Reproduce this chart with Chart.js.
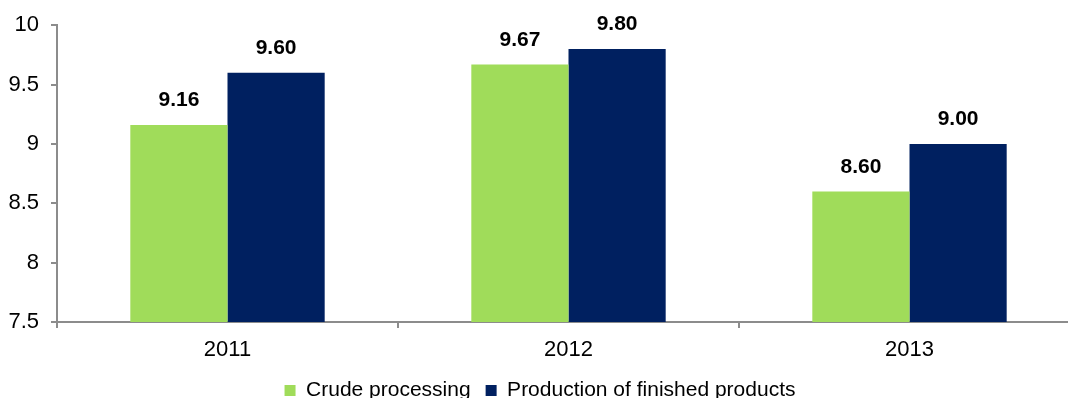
<!DOCTYPE html>
<html>
<head>
<meta charset="utf-8">
<script src="https://cdn.jsdelivr.net/npm/chart.js@4/dist/chart.umd.min.js"></script>
<style>
  html, body { margin: 0; padding: 0; background: #fff; overflow: hidden; }
  #wrap { width: 1080px; height: 411px; }
</style>
</head>
<body>
<div id="wrap"><canvas id="ctx-refining" width="1080" height="411"></canvas></div>
<script>
const years = ['2011', '2012', '2013'];
const crudeProcessing = [9.16, 9.67, 8.60];
const finishedProducts = [9.60, 9.80, 9.00];
const yTicks = [7.5, 8, 8.5, 9, 9.5, 10];

const FONT = "'Liberation Sans', Arial, sans-serif";
const axisGray = '#8c8c8c';

// value labels above each bar
const barLabels = {
    id: 'barLabels',
    afterDatasetsDraw(chart) {
        const c = chart.ctx;
        c.save();
        c.font = 'bold 21px ' + FONT;
        c.fillStyle = '#000';
        c.textAlign = 'center';
        c.textBaseline = 'bottom';
        chart.data.datasets.forEach((ds, i) => {
            chart.getDatasetMeta(i).data.forEach((bar, j) => {
                c.fillText(ds.data[j].toFixed(2), bar.x, bar.y - 14);
            });
        });
        c.restore();
    }
};

let ctx = document.getElementById('ctx-refining');
let chart = new Chart(ctx, {
    type: 'bar',
    data: {
        labels: years,
        datasets: [
            {
                label: 'Crude processing',
                data: crudeProcessing,
                backgroundColor: '#a0dc5a',
                categoryPercentage: 0.57,
                barPercentage: 1.0
            },
            {
                label: 'Production of finished products',
                data: finishedProducts,
                backgroundColor: '#002060',
                categoryPercentage: 0.57,
                barPercentage: 1.0
            }
        ]
    },
    options: {
        responsive: false,
        animation: false,
        layout: { padding: { top: 23, left: 0, right: 0, bottom: 0 } },
        plugins: {
            tooltip: { enabled: false },
            legend: {
                position: 'bottom',
                labels: {
                    boxWidth: 11,
                    boxHeight: 11,
                    padding: 15,
                    color: '#000',
                    font: { family: FONT, size: 21 }
                }
            }
        },
        scales: {
            x: {
                grid: {
                    drawOnChartArea: false,
                    color: axisGray,
                    tickLength: 6,
                    lineWidth: 2
                },
                border: { color: axisGray, width: 2 },
                ticks: {
                    color: '#000',
                    padding: 9,
                    font: { family: FONT, size: 22 }
                },
                afterFit: (scale) => { scale.height = 43; }
            },
            y: {
                min: 7.5,
                max: 10,
                afterBuildTicks: (scale) => { scale.ticks = yTicks.map(v => ({ value: v })); },
                grid: {
                    drawOnChartArea: false,
                    color: axisGray,
                    tickLength: 6,
                    lineWidth: 2
                },
                border: { color: axisGray, width: 2 },
                ticks: {
                    color: '#000',
                    padding: 12,
                    font: { family: FONT, size: 22 },
                    callback: (v) => String(v)
                },
                afterFit: (scale) => { scale.width = 57; }
            }
        }
    },
    plugins: [barLabels]
});
</script>
</body>
</html>
